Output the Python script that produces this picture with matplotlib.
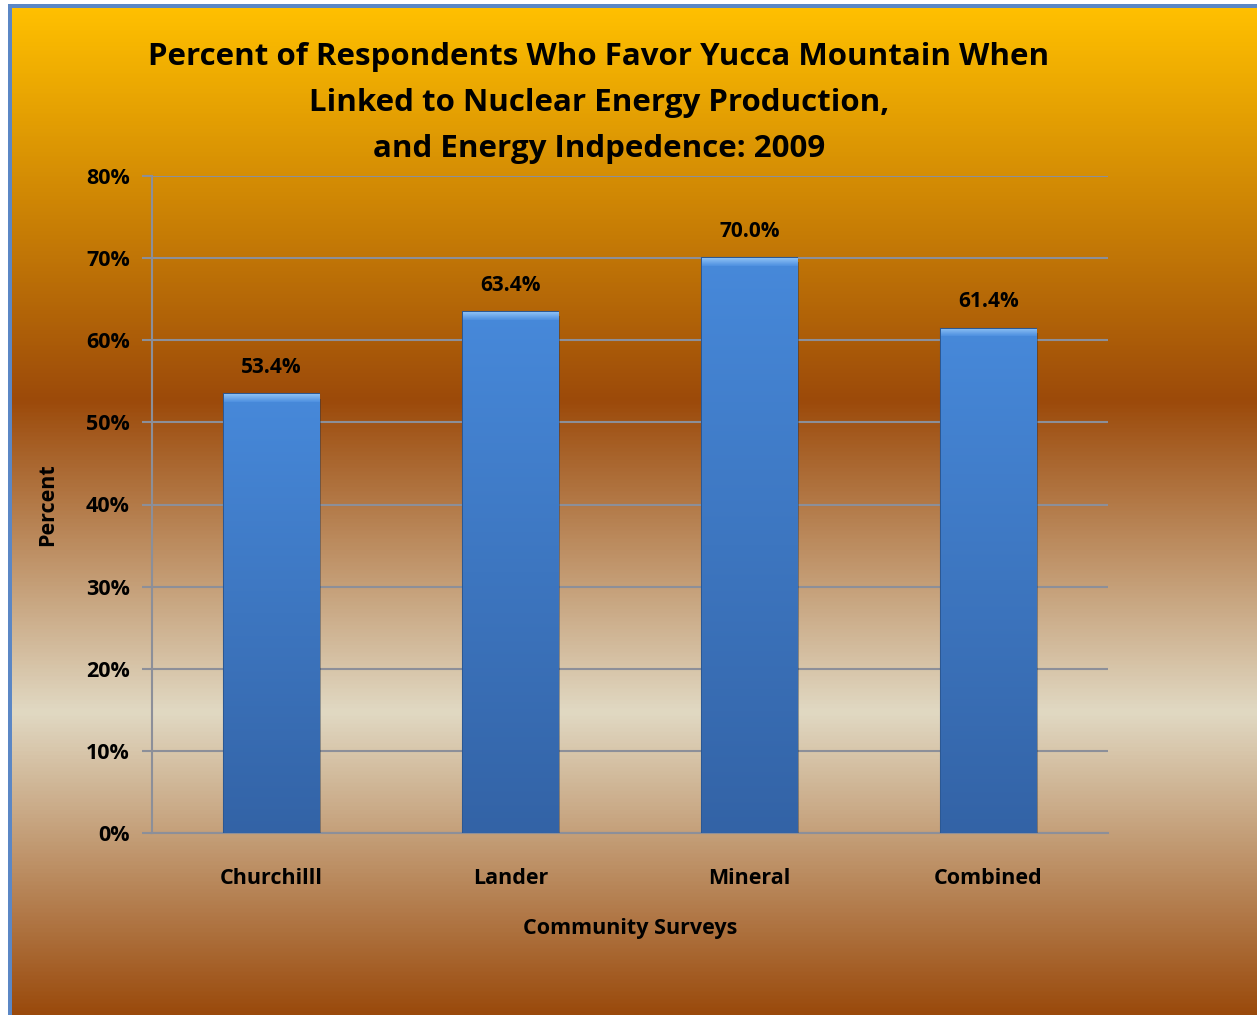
import numpy as np
import matplotlib
matplotlib.use('Agg')
from matplotlib import pyplot as plt
from matplotlib import patheffects as pe
from matplotlib.colors import LinearSegmentedColormap
from matplotlib.patches import Rectangle

plt.rcParams['font.family'] = ['Open Sans', 'DejaVu Sans']
plt.rcParams['font.weight'] = 'bold'

# data
communities = ['Churchilll', 'Lander', 'Mineral', 'Combined']
percents = [53.4, 63.4, 70.0, 61.4]
yticks = [0, 10, 20, 30, 40, 50, 60, 70, 80]
title = ('Percent of Respondents Who Favor Yucca Mountain When\n'
         'Linked to Nuclear Energy Production,\n'
         'and Energy Indpedence: 2009')

W, H = 1257, 1015
fig = plt.figure(figsize=(W / 100, H / 100), dpi=100)
fig.patch.set_facecolor('white')

# background gradient (gold -> brown -> beige -> brown)
bg = fig.add_axes([12 / W, 0, 1 - 12 / W, 1 - 7 / H])
bg.set_axis_off()
bg_cmap = LinearSegmentedColormap.from_list('bg', [
    (0.0, '#FFC000'), (0.39, '#9C4A0A'), (0.70, '#E1D9C3'), (1.0, '#9A4A0C')])
grad = np.linspace(0, 1, 512).reshape(-1, 1)
bg.imshow(grad, aspect='auto', cmap=bg_cmap, extent=[0, 1, 1, 0])
bg.set_xlim(0, 1)
bg.set_ylim(1, 0)

# blue frame on left and top
fig.patches.append(Rectangle((8 / W, 0), 4 / W, 1 - 4 / H, transform=fig.transFigure,
                             facecolor='#5B87C5', edgecolor='none', zorder=5))
fig.patches.append(Rectangle((8 / W, 1 - 8 / H), 1, 4 / H, transform=fig.transFigure,
                             facecolor='#5B87C5', edgecolor='none', zorder=5))

ax = fig.add_axes([152 / W, (H - 833) / H, (1108 - 152) / W, (833 - 176) / H])
ax.patch.set_alpha(0)
x = np.arange(len(communities))
bars = ax.bar(x, percents, width=0.4, color='#3F7ACB', edgecolor='#2C5893',
              linewidth=1.5, zorder=3)
for b in bars:
    b.set_path_effects([pe.SimplePatchShadow(offset=(1.5, -3), alpha=0.35), pe.Normal()])

# vertical shading inside bars, light bevel on top
bar_cmap = LinearSegmentedColormap.from_list('bar', ['#4789DA', '#3363A6'])
bevel_cmap = LinearSegmentedColormap.from_list('bev', ['#4E90E0', '#8CC0F5'])
for b, v in zip(bars, percents):
    x0 = b.get_x()
    im = ax.imshow(np.linspace(0, 1, 256).reshape(-1, 1), cmap=bar_cmap, aspect='auto',
                   extent=[x0, x0 + b.get_width(), 0, v], zorder=3.5)
    im.set_clip_path(b)
    top = ax.bar(b.get_x() + b.get_width() / 2, 0.9, bottom=v - 0.9, width=b.get_width(),
                 color='none', edgecolor='none', zorder=4)[0]
    im2 = ax.imshow(np.linspace(0, 1, 32).reshape(-1, 1), cmap=bevel_cmap, aspect='auto',
                    extent=[x0, x0 + b.get_width(), v - 0.9, v], zorder=4, origin='lower')
    im2.set_clip_path(top)
    ax.text(b.get_x() + b.get_width() / 2, v + 2.0, f'{v:.1f}%', ha='center', va='bottom',
            fontsize=15, fontweight='bold', color='black')

ax.set_xlim(-0.5, len(communities) - 0.5)
ax.set_ylim(0, 80)
ax.set_yticks(yticks)
ax.set_yticklabels([f'{t}%' for t in yticks])
ax.set_xticks(x)
ax.set_xticklabels(communities)
ax.yaxis.grid(True, color='#8C8F99', linewidth=1.5, zorder=0)
for s in ['top', 'right']:
    ax.spines[s].set_visible(False)
ax.spines['left'].set_color('#8C8F99')
ax.spines['bottom'].set_color('#8C8F99')
ax.spines['left'].set_linewidth(1.5)
ax.spines['bottom'].set_linewidth(1.5)
ax.tick_params(axis='y', length=7, width=1.5, color='#8C8F99', labelsize=15.5, pad=9)
ax.tick_params(axis='x', length=0, labelsize=15.5, pad=25)
for lab in ax.get_xticklabels() + ax.get_yticklabels():
    lab.set_fontweight('bold')
ax.set_xlabel('Community Surveys', fontsize=15.5, fontweight='bold')
ax.xaxis.set_label_coords(0.5, -(918 - 833) / (833 - 176))
ax.set_ylabel('Percent', fontsize=15.5, fontweight='bold')
ax.yaxis.set_label_coords(-(152 - 58) / (1108 - 152), 0.5)

fig.text(599 / W, 1 - 103 / H, title, ha='center', va='center', fontsize=22.5,
         fontweight='bold', linespacing=1.68)

fig.savefig('out.png', dpi=100)
